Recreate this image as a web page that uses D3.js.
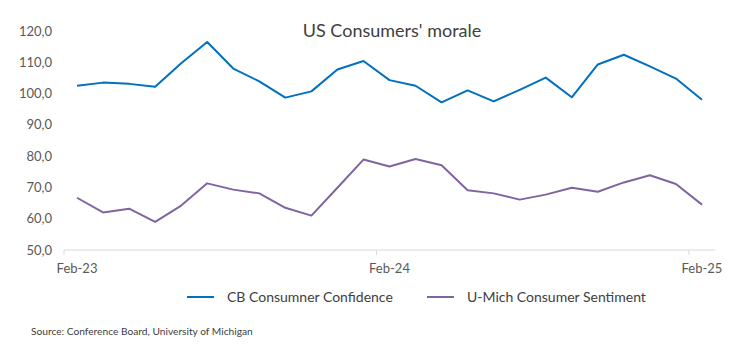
<!DOCTYPE html>
<html>
<head>
<meta charset="utf-8">
<script src="https://cdn.jsdelivr.net/npm/d3@7"></script>
<style>
    body { margin: 0; background: #fff; }
    svg { font-family: Lato, "Open Sans", sans-serif; }
</style>
</head>
<body>
<div id="chart"></div>
<script>
const months = [
    "Feb-23", "Mar-23", "Apr-23", "May-23", "Jun-23", "Jul-23", "Aug-23", "Sep-23", "Oct-23", "Nov-23", "Dec-23", "Jan-24",
    "Feb-24", "Mar-24", "Apr-24", "May-24", "Jun-24", "Jul-24", "Aug-24", "Sep-24", "Oct-24", "Nov-24", "Dec-24", "Jan-25",
    "Feb-25"
];
const cbConfidence = [
    102.5, 103.5, 103.1, 102.2, 109.7, 116.5, 108.0, 103.9, 98.7, 100.7, 107.7, 110.4,
    104.3, 102.5, 97.2, 101.0, 97.5, 101.2, 105.1, 98.8, 109.3, 112.4, 108.7, 104.8,
    98.0
];
const umichSentiment = [
    66.7, 62.0, 63.2, 59.0, 64.2, 71.3, 69.3, 68.1, 63.5, 61.0, 69.9, 78.9,
    76.7, 79.1, 77.1, 69.1, 68.1, 66.1, 67.7, 69.9, 68.6, 71.6, 73.9, 71.1,
    64.5
];
const xTickLabels = ["Feb-23", "Feb-24", "Feb-25"];
const yTicks = [50, 60, 70, 80, 90, 100, 110, 120];

const series = [
    { name: "CB Consumner Confidence", values: cbConfidence, color: "#0070C0" },
    { name: "U-Mich Consumer Sentiment", values: umichSentiment, color: "#8064A2" }
];

const width = 752, height = 348;
const plotLeft = 64, plotRight = 715, plotTop = 31, plotBottom = 250;

const svg = d3.select("#chart").append("svg")
    .attr("width", width)
    .attr("height", height);

const x = d3.scaleBand().domain(months).range([plotLeft, plotRight]);
const y = d3.scaleLinear().domain([50, 120]).range([plotBottom, plotTop]);

const fmt = d3.formatLocale({ decimal: ",", thousands: ".", grouping: [3], currency: ["", ""] }).format(".1f");

// Title
svg.append("text")
    .attr("x", 392)
    .attr("y", 37)
    .attr("text-anchor", "middle")
    .attr("font-size", 18)
    .attr("fill", "#404040")
    .text("US Consumers' morale");

// Y axis labels (no line)
svg.append("g")
    .selectAll("text")
    .data(yTicks)
    .join("text")
    .attr("x", 52)
    .attr("y", d => y(d))
    .attr("dy", "0.35em")
    .attr("text-anchor", "end")
    .attr("font-size", 13)
    .attr("fill", "#595959")
    .text(d => fmt(d));

// X axis line and ticks
svg.append("line")
    .attr("x1", plotLeft).attr("x2", plotRight)
    .attr("y1", plotBottom).attr("y2", plotBottom)
    .attr("stroke", "#d9d9d9")
    .attr("stroke-width", 1);

svg.append("g")
    .selectAll("line")
    .data(xTickLabels)
    .join("line")
    .attr("x1", d => x(d)).attr("x2", d => x(d))
    .attr("y1", plotBottom).attr("y2", plotBottom + 5)
    .attr("stroke", "#d9d9d9");

svg.append("g")
    .selectAll("text")
    .data(xTickLabels)
    .join("text")
    .attr("x", d => x(d) + x.bandwidth() / 2)
    .attr("y", 273)
    .attr("text-anchor", "middle")
    .attr("font-size", 13)
    .attr("fill", "#595959")
    .text(d => d);

// Lines
const line = d3.line()
    .x((d, i) => x(months[i]) + x.bandwidth() / 2)
    .y(d => y(d));

svg.append("g")
    .selectAll("path")
    .data(series)
    .join("path")
    .attr("fill", "none")
    .attr("stroke", d => d.color)
    .attr("stroke-width", 2)
    .attr("stroke-linejoin", "round")
    .attr("d", d => line(d.values));

// Legend
const legendX = [187, 427];
const legend = svg.append("g")
    .selectAll("g")
    .data(series)
    .join("g")
    .attr("transform", (d, i) => `translate(${legendX[i]},297)`);

legend.append("line")
    .attr("x1", 0).attr("x2", 27)
    .attr("stroke", d => d.color)
    .attr("stroke-width", 2);

legend.append("text")
    .attr("x", 40)
    .attr("dy", "0.35em")
    .attr("font-size", 14)
    .attr("fill", "#404040")
    .text(d => d.name);

// Source
svg.append("text")
    .attr("x", 31)
    .attr("y", 335)
    .attr("font-size", 10.2)
    .attr("fill", "#404040")
    .text("Source: Conference Board, University of Michigan");
</script>
</body>
</html>
